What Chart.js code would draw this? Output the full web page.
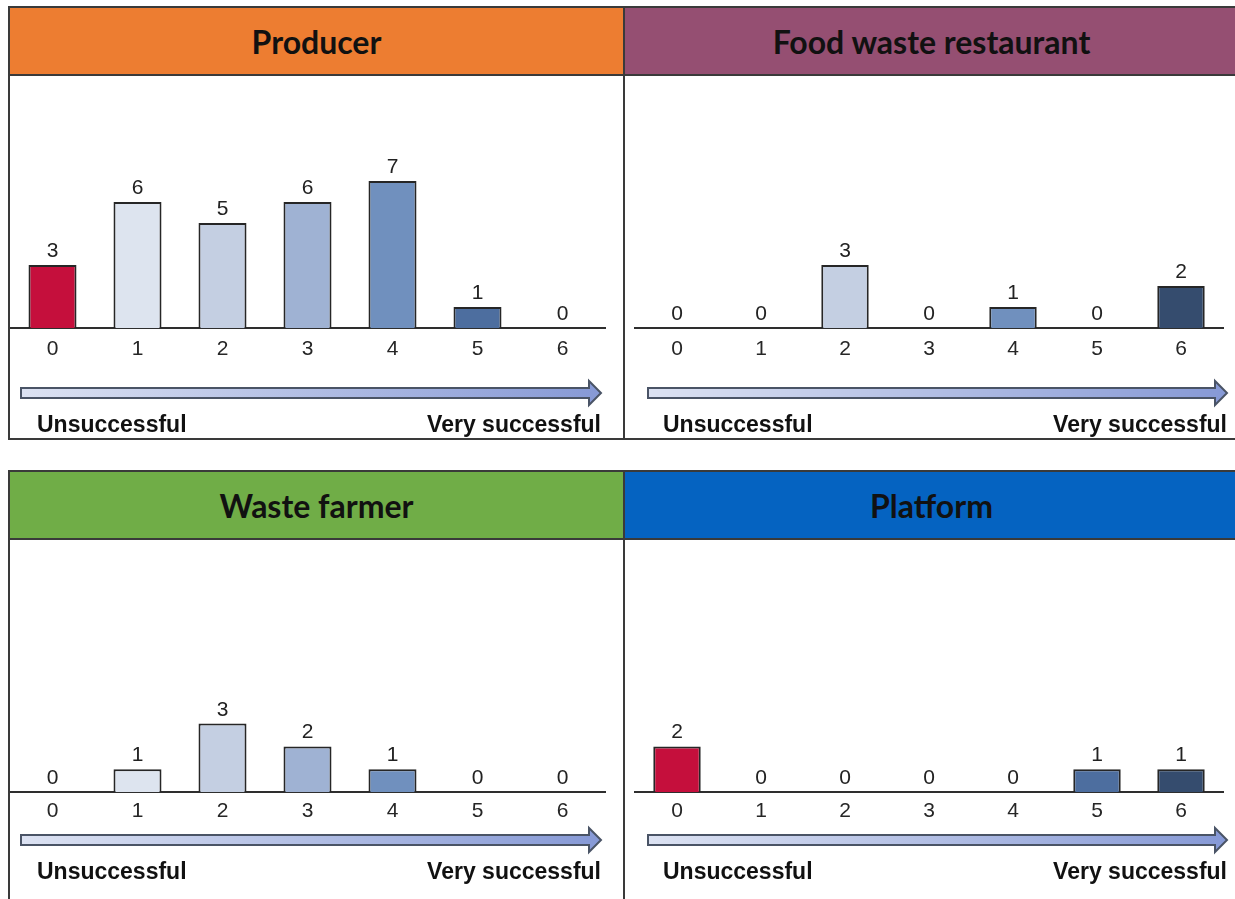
<!DOCTYPE html>
<html>
<head>
<meta charset="utf-8">
<script src="https://cdn.jsdelivr.net/npm/chart.js@4/dist/chart.umd.min.js"></script>
<style>
  html, body { margin: 0; padding: 0; background: #fff; }
  body { position: relative; width: 1235px; height: 899px; overflow: hidden; }
  .panel { position: absolute; box-sizing: border-box; border: 2px solid #3a3a3a; width: 617px; }
  .head {
    height: 66px; border-bottom: 2px solid #3a3a3a;
    display: flex; align-items: center; justify-content: center;
    font: bold 32px Lato, "Open Sans", sans-serif; color: #111;
  }
  canvas { position: absolute; }
</style>
</head>
<body>
<div class="panel" id="p0" style="left:8px; top:6px; height:434px;"><div class="head" style="background:#ED7D31"></div></div>
<div class="panel" id="p1" style="left:623px; top:6px; height:434px;"><div class="head" style="background:#954F72"></div></div>
<div class="panel" id="p2" style="left:8px; top:470px; height:500px;"><div class="head" style="background:#70AD47"></div></div>
<div class="panel" id="p3" style="left:623px; top:470px; height:500px;"><div class="head" style="background:#0563C1"></div></div>

<canvas id="c0" width="612" height="362" style="left:10px; top:76px;"></canvas>
<canvas id="c1" width="612" height="362" style="left:625px; top:76px;"></canvas>
<canvas id="c2" width="612" height="360" style="left:10px; top:539px;"></canvas>
<canvas id="c3" width="612" height="360" style="left:625px; top:539px;"></canvas>

<script>
// Success score categories (0 = unsuccessful ... 6 = very successful)
const scoreLabels = ['0', '1', '2', '3', '4', '5', '6'];

// Number of respondents per score, one array per stakeholder group
const producerCounts   = [3, 6, 5, 6, 7, 1, 0];
const restaurantCounts = [0, 0, 3, 0, 1, 0, 2];
const farmerCounts     = [0, 1, 3, 2, 1, 0, 0];
const platformCounts   = [2, 0, 0, 0, 0, 1, 1];

const panelTitles = ['Producer', 'Food waste restaurant', 'Waste farmer', 'Platform'];
const scaleEndLabels = ['Unsuccessful', 'Very successful'];

// Fill per score: red for 0, then a light-to-dark blue ramp
const scorePalette = ['#C50F3C', '#DDE4EF', '#C4CFE2', '#9FB2D3', '#7090BE', '#4D6E9F', '#354C6E'];

const tickFont = '"Liberation Sans", Arial, sans-serif';

// Counts printed above every bar (zeros included)
const valueLabels = {
  id: 'valueLabels',
  afterDatasetsDraw(chart) {
    const ctx = chart.ctx;
    const meta = chart.getDatasetMeta(0);
    const values = chart.data.datasets[0].data;
    ctx.save();
    ctx.font = '21px ' + tickFont;
    ctx.fillStyle = '#222';
    ctx.textAlign = 'center';
    ctx.textBaseline = 'alphabetic';
    meta.data.forEach((bar, i) => {
      ctx.fillText(String(values[i]), bar.x, bar.y - 8);
    });
    ctx.restore();
  }
};

// Gradient arrow under the axis with the two end captions
const scaleArrow = {
  id: 'scaleArrow',
  afterDraw(chart, args, opts) {
    const { ctx, chartArea } = chart;
    const x0 = chartArea.left + opts.start;
    const x1 = chartArea.right + opts.end;
    const yc = chartArea.bottom + opts.arrowY;
    const half = 5, headHalf = 12, headLen = 12;
    ctx.save();
    const g = ctx.createLinearGradient(x0, 0, x1, 0);
    g.addColorStop(0, '#DCE2F2');
    g.addColorStop(1, '#8699D6');
    ctx.beginPath();
    ctx.moveTo(x0, yc - half);
    ctx.lineTo(x1 - headLen, yc - half);
    ctx.lineTo(x1 - headLen, yc - headHalf);
    ctx.lineTo(x1, yc);
    ctx.lineTo(x1 - headLen, yc + headHalf);
    ctx.lineTo(x1 - headLen, yc + half);
    ctx.lineTo(x0, yc + half);
    ctx.closePath();
    ctx.fillStyle = g;
    ctx.fill();
    ctx.lineWidth = 2;
    ctx.strokeStyle = '#4a5466';
    ctx.stroke();

    ctx.font = 'bold 23px ' + tickFont;
    ctx.fillStyle = '#111';
    ctx.textBaseline = 'alphabetic';
    ctx.textAlign = 'left';
    ctx.fillText(scaleEndLabels[0], chartArea.left + opts.textStart, chartArea.bottom + opts.textY);
    ctx.textAlign = 'right';
    ctx.fillText(scaleEndLabels[1], x1, chartArea.bottom + opts.textY);
    ctx.restore();
  }
};

function buildPanel(canvasId, counts, cfg) {
  return new Chart(document.getElementById(canvasId), {
    type: 'bar',
    data: {
      labels: scoreLabels,
      datasets: [{
        data: counts,
        backgroundColor: scorePalette,
        borderColor: '#262626',
        borderWidth: 2,
        categoryPercentage: 0.565,
        barPercentage: 1
      }]
    },
    options: {
      responsive: false,
      animation: false,
      events: [],
      layout: { padding: { left: cfg.padLeft, right: cfg.padRight, top: 0, bottom: 0 } },
      plugins: {
        legend: { display: false },
        tooltip: { enabled: false },
        scaleArrow: cfg.arrow
      },
      scales: {
        x: {
          grid: { display: false, drawTicks: false },
          border: { display: true, color: '#2e2e2e', width: 2 },
          ticks: { color: '#262626', font: { family: tickFont, size: 21 }, padding: cfg.tickPad },
          afterFit(scale) { scale.height = cfg.axisHeight; }
        },
        y: { display: false, min: 0, max: cfg.yMax }
      }
    },
    plugins: [valueLabels, scaleArrow]
  });
}

document.querySelectorAll('.head').forEach((h, i) => { h.textContent = panelTitles[i]; });

const topArrowLeft  = { start: 11, end: -4, arrowY: 65, textStart: 27, textY: 104 };
const topArrowRight = { start: 13, end: 4,  arrowY: 65, textStart: 28, textY: 104 };
const botArrowLeft  = { start: 11, end: -4, arrowY: 48, textStart: 27, textY: 87 };
const botArrowRight = { start: 13, end: 4,  arrowY: 48, textStart: 28, textY: 87 };

buildPanel('c0', producerCounts,   { padLeft: 0,  padRight: 17, yMax: 12,   axisHeight: 110, tickPad: 9, arrow: topArrowLeft });
buildPanel('c1', restaurantCounts, { padLeft: 10, padRight: 14, yMax: 12,   axisHeight: 110, tickPad: 9, arrow: topArrowRight });
buildPanel('c2', farmerCounts,     { padLeft: 0,  padRight: 17, yMax: 11.1, axisHeight: 107, tickPad: 7, arrow: botArrowLeft });
buildPanel('c3', platformCounts,   { padLeft: 10, padRight: 14, yMax: 11.1, axisHeight: 107, tickPad: 7, arrow: botArrowRight });
</script>
</body>
</html>
